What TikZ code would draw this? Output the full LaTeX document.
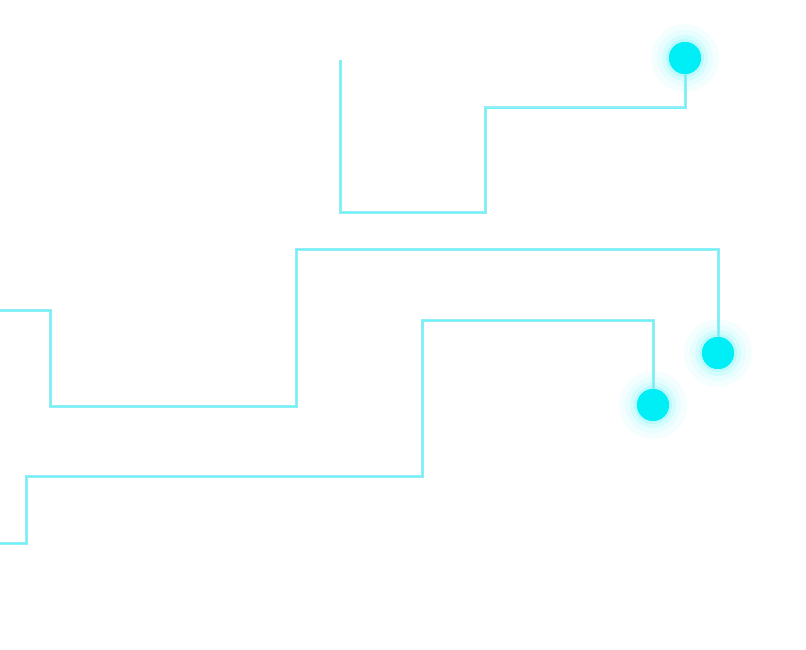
\documentclass[tikz,border=0pt]{standalone}
\usetikzlibrary{positioning}
\definecolor{glow}{RGB}{0,238,245}
\definecolor{trace}{RGB}{150,235,245}
\begin{document}
\begin{tikzpicture}[x=1pt,y=-1pt,
  wire/.style={draw=trace, line width=3pt, line join=miter},
  core/.style={draw=glow!60!white, line width=0.8pt},
  dot/.style={circle, fill=glow, minimum size=32pt, inner sep=0pt}]
  \useasboundingbox (0,0) rectangle (806,650);
  % glowing end points
  \foreach \x/\y/\n in {685/58/d1, 718/353/d2, 653/405/d3}{
    \foreach \r/\o in {34/0.04, 28/0.06, 23/0.08, 19/0.12}
      \fill[glow, opacity=\o] (\x,\y) circle (\r);
    \node[dot] (\n) at (\x,\y) {};
  }
  % traces
  \coordinate (a0) at (340,60);
  \coordinate (b0) at (0,310);
  \coordinate (c0) at (0,543);
  \foreach \s in {wire, core}{
    \draw[\s] (a0) |- (485,212) |- (685,108) -- (d1);
    \draw[\s] (b0) -| (50,406) -| (296,249) -| (d2);
    \draw[\s] (c0) -| (26,476) -| (422,320) -| (d3);
  }
  \foreach \n in {d1, d2, d3} \node[dot] at (\n) {};
\end{tikzpicture}
\end{document}
